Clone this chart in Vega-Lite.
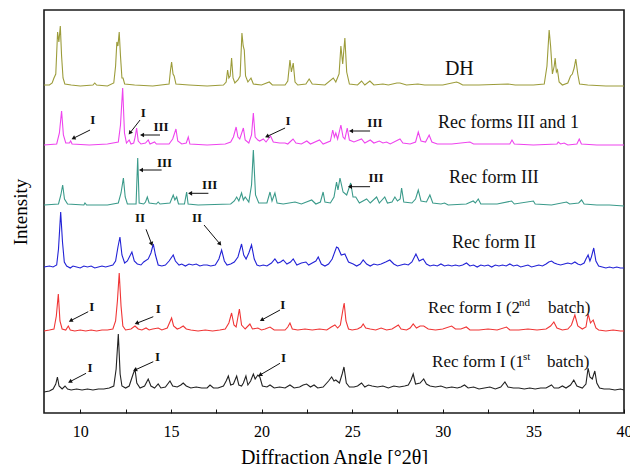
{
"$schema":"https://vega.github.io/schema/vega-lite/v6.json",
"width":580,"height":403,
"autosize":{"type":"none"},
"padding":{"left":44,"top":10,"right":6,"bottom":51},
"config":{"view":{"stroke":"#1a1a1a","strokeWidth":1.6},"axis":{"grid":false},"text":{"font":"Liberation Serif"}},
"resolve":{"scale":{"y":"independent"},"axis":{"y":"independent"}},
"datasets":{
"xrd":[
{"s":"DH","x":8.0,"y":1},{"s":"DH","x":8.3,"y":1},{"s":"DH","x":8.45,"y":3},{"s":"DH","x":8.55,"y":8},{"s":"DH","x":8.65,"y":12},{"s":"DH","x":8.75,"y":54},{"s":"DH","x":8.82,"y":44},{"s":"DH","x":8.9,"y":60},{"s":"DH","x":8.97,"y":30},{"s":"DH","x":9.05,"y":8},{"s":"DH","x":9.15,"y":2},{"s":"DH","x":9.5,"y":1},{"s":"DH","x":10.0,"y":0},{"s":"DH","x":10.7,"y":1},{"s":"DH","x":10.8,"y":3},{"s":"DH","x":10.9,"y":1},{"s":"DH","x":11.5,"y":0},{"s":"DH","x":11.85,"y":3},{"s":"DH","x":11.95,"y":20},{"s":"DH","x":12.02,"y":44},{"s":"DH","x":12.08,"y":40},{"s":"DH","x":12.15,"y":54},{"s":"DH","x":12.22,"y":30},{"s":"DH","x":12.3,"y":8},{"s":"DH","x":12.36,"y":8},{"s":"DH","x":12.45,"y":2},{"s":"DH","x":13.0,"y":1},{"s":"DH","x":14.0,"y":0},{"s":"DH","x":14.9,"y":2},{"s":"DH","x":14.98,"y":16},{"s":"DH","x":15.04,"y":24},{"s":"DH","x":15.12,"y":12},{"s":"DH","x":15.18,"y":10},{"s":"DH","x":15.28,"y":2},{"s":"DH","x":16.0,"y":1},{"s":"DH","x":17.0,"y":0},{"s":"DH","x":17.9,"y":1},{"s":"DH","x":18.05,"y":4},{"s":"DH","x":18.13,"y":16},{"s":"DH","x":18.2,"y":8},{"s":"DH","x":18.27,"y":10},{"s":"DH","x":18.35,"y":28},{"s":"DH","x":18.43,"y":8},{"s":"DH","x":18.53,"y":3},{"s":"DH","x":18.7,"y":6},{"s":"DH","x":18.82,"y":10},{"s":"DH","x":18.92,"y":53},{"s":"DH","x":18.99,"y":40},{"s":"DH","x":19.05,"y":36},{"s":"DH","x":19.12,"y":10},{"s":"DH","x":19.25,"y":4},{"s":"DH","x":19.42,"y":8},{"s":"DH","x":19.55,"y":2},{"s":"DH","x":20.0,"y":1},{"s":"DH","x":20.43,"y":4},{"s":"DH","x":20.6,"y":1},{"s":"DH","x":21.3,"y":1},{"s":"DH","x":21.45,"y":5},{"s":"DH","x":21.57,"y":26},{"s":"DH","x":21.65,"y":14},{"s":"DH","x":21.75,"y":23},{"s":"DH","x":21.85,"y":4},{"s":"DH","x":22.0,"y":1},{"s":"DH","x":22.45,"y":2},{"s":"DH","x":22.63,"y":7},{"s":"DH","x":22.8,"y":2},{"s":"DH","x":23.5,"y":1},{"s":"DH","x":23.96,"y":8},{"s":"DH","x":24.1,"y":4},{"s":"DH","x":24.28,"y":12},{"s":"DH","x":24.38,"y":40},{"s":"DH","x":24.48,"y":22},{"s":"DH","x":24.6,"y":48},{"s":"DH","x":24.7,"y":14},{"s":"DH","x":24.85,"y":2},{"s":"DH","x":25.3,"y":1},{"s":"DH","x":25.52,"y":5},{"s":"DH","x":25.7,"y":1},{"s":"DH","x":25.98,"y":5},{"s":"DH","x":26.2,"y":1},{"s":"DH","x":26.7,"y":2},{"s":"DH","x":27.0,"y":1},{"s":"DH","x":27.47,"y":3},{"s":"DH","x":27.64,"y":3},{"s":"DH","x":28.0,"y":1},{"s":"DH","x":28.63,"y":2},{"s":"DH","x":29.0,"y":1},{"s":"DH","x":30.0,"y":1},{"s":"DH","x":30.76,"y":4},{"s":"DH","x":30.9,"y":3},{"s":"DH","x":31.1,"y":1},{"s":"DH","x":32.0,"y":1},{"s":"DH","x":33.6,"y":2},{"s":"DH","x":34.0,"y":1},{"s":"DH","x":35.0,"y":1},{"s":"DH","x":35.6,"y":2},{"s":"DH","x":35.75,"y":20},{"s":"DH","x":35.87,"y":56},{"s":"DH","x":35.95,"y":40},{"s":"DH","x":36.05,"y":12},{"s":"DH","x":36.15,"y":20},{"s":"DH","x":36.2,"y":28},{"s":"DH","x":36.27,"y":14},{"s":"DH","x":36.33,"y":16},{"s":"DH","x":36.42,"y":4},{"s":"DH","x":36.6,"y":1},{"s":"DH","x":36.9,"y":3},{"s":"DH","x":37.05,"y":10},{"s":"DH","x":37.15,"y":12},{"s":"DH","x":37.25,"y":18},{"s":"DH","x":37.34,"y":27},{"s":"DH","x":37.45,"y":12},{"s":"DH","x":37.55,"y":2},{"s":"DH","x":38.0,"y":1},{"s":"DH","x":39.0,"y":0},{"s":"DH","x":40.0,"y":0},

{"s":"III+I","x":8.0,"y":0},{"s":"III+I","x":8.7,"y":1},{"s":"III+I","x":8.85,"y":12},{"s":"III+I","x":8.97,"y":34},{"s":"III+I","x":9.07,"y":10},{"s":"III+I","x":9.2,"y":2},{"s":"III+I","x":9.4,"y":2},{"s":"III+I","x":9.47,"y":4},{"s":"III+I","x":9.55,"y":1},{"s":"III+I","x":10.5,"y":0},{"s":"III+I","x":11.5,"y":1},{"s":"III+I","x":12.1,"y":3},{"s":"III+I","x":12.22,"y":20},{"s":"III+I","x":12.34,"y":57},{"s":"III+I","x":12.44,"y":12},{"s":"III+I","x":12.55,"y":2},{"s":"III+I","x":12.7,"y":5},{"s":"III+I","x":12.8,"y":1},{"s":"III+I","x":12.95,"y":2},{"s":"III+I","x":13.03,"y":8},{"s":"III+I","x":13.11,"y":17},{"s":"III+I","x":13.2,"y":4},{"s":"III+I","x":13.35,"y":1},{"s":"III+I","x":13.6,"y":2},{"s":"III+I","x":13.75,"y":5},{"s":"III+I","x":13.85,"y":1},{"s":"III+I","x":14.1,"y":3},{"s":"III+I","x":14.2,"y":1},{"s":"III+I","x":14.9,"y":1},{"s":"III+I","x":15.1,"y":6},{"s":"III+I","x":15.28,"y":16},{"s":"III+I","x":15.38,"y":4},{"s":"III+I","x":15.6,"y":1},{"s":"III+I","x":15.85,"y":2},{"s":"III+I","x":15.96,"y":8},{"s":"III+I","x":16.05,"y":1},{"s":"III+I","x":17.0,"y":0},{"s":"III+I","x":18.0,"y":1},{"s":"III+I","x":18.3,"y":3},{"s":"III+I","x":18.45,"y":8},{"s":"III+I","x":18.6,"y":18},{"s":"III+I","x":18.7,"y":8},{"s":"III+I","x":18.8,"y":6},{"s":"III+I","x":19.0,"y":17},{"s":"III+I","x":19.1,"y":5},{"s":"III+I","x":19.3,"y":2},{"s":"III+I","x":19.45,"y":10},{"s":"III+I","x":19.55,"y":32},{"s":"III+I","x":19.65,"y":8},{"s":"III+I","x":19.8,"y":5},{"s":"III+I","x":19.9,"y":4},{"s":"III+I","x":20.1,"y":6},{"s":"III+I","x":20.25,"y":3},{"s":"III+I","x":20.5,"y":9},{"s":"III+I","x":20.65,"y":3},{"s":"III+I","x":21.0,"y":2},{"s":"III+I","x":21.3,"y":2},{"s":"III+I","x":21.45,"y":1},{"s":"III+I","x":21.74,"y":6},{"s":"III+I","x":21.9,"y":2},{"s":"III+I","x":22.2,"y":1},{"s":"III+I","x":22.5,"y":4},{"s":"III+I","x":22.7,"y":1},{"s":"III+I","x":23.2,"y":5},{"s":"III+I","x":23.4,"y":1},{"s":"III+I","x":23.8,"y":4},{"s":"III+I","x":23.93,"y":15},{"s":"III+I","x":24.02,"y":8},{"s":"III+I","x":24.1,"y":12},{"s":"III+I","x":24.2,"y":6},{"s":"III+I","x":24.38,"y":20},{"s":"III+I","x":24.5,"y":8},{"s":"III+I","x":24.6,"y":6},{"s":"III+I","x":24.73,"y":17},{"s":"III+I","x":24.85,"y":5},{"s":"III+I","x":25.1,"y":3},{"s":"III+I","x":25.52,"y":6},{"s":"III+I","x":25.7,"y":2},{"s":"III+I","x":26.0,"y":5},{"s":"III+I","x":26.2,"y":2},{"s":"III+I","x":26.5,"y":4},{"s":"III+I","x":26.7,"y":2},{"s":"III+I","x":26.9,"y":3},{"s":"III+I","x":27.1,"y":1},{"s":"III+I","x":27.64,"y":6},{"s":"III+I","x":27.8,"y":2},{"s":"III+I","x":28.2,"y":1},{"s":"III+I","x":28.5,"y":3},{"s":"III+I","x":28.65,"y":13},{"s":"III+I","x":28.8,"y":4},{"s":"III+I","x":29.05,"y":3},{"s":"III+I","x":29.25,"y":10},{"s":"III+I","x":29.4,"y":3},{"s":"III+I","x":29.7,"y":1},{"s":"III+I","x":30.5,"y":1},{"s":"III+I","x":31.5,"y":3},{"s":"III+I","x":31.7,"y":1},{"s":"III+I","x":32.5,"y":1},{"s":"III+I","x":33.7,"y":1},{"s":"III+I","x":33.82,"y":5},{"s":"III+I","x":33.95,"y":1},{"s":"III+I","x":35.0,"y":0},{"s":"III+I","x":36.3,"y":1},{"s":"III+I","x":36.37,"y":3},{"s":"III+I","x":36.5,"y":1},{"s":"III+I","x":36.7,"y":2},{"s":"III+I","x":36.9,"y":0},{"s":"III+I","x":37.4,"y":1},{"s":"III+I","x":37.53,"y":6},{"s":"III+I","x":37.65,"y":1},{"s":"III+I","x":38.5,"y":0},{"s":"III+I","x":40.0,"y":0},

{"s":"III","x":8.0,"y":0},{"s":"III","x":8.8,"y":1},{"s":"III","x":8.93,"y":10},{"s":"III","x":9.03,"y":20},{"s":"III","x":9.13,"y":6},{"s":"III","x":9.3,"y":1},{"s":"III","x":10.2,"y":0},{"s":"III","x":10.26,"y":2},{"s":"III","x":10.35,"y":0},{"s":"III","x":11.5,"y":0},{"s":"III","x":12.1,"y":2},{"s":"III","x":12.25,"y":12},{"s":"III","x":12.38,"y":27},{"s":"III","x":12.48,"y":8},{"s":"III","x":12.6,"y":1},{"s":"III","x":13.08,"y":1},{"s":"III","x":13.17,"y":47},{"s":"III","x":13.25,"y":2},{"s":"III","x":13.5,"y":1},{"s":"III","x":13.6,"y":3},{"s":"III","x":13.7,"y":8},{"s":"III","x":13.8,"y":2},{"s":"III","x":14.2,"y":1},{"s":"III","x":14.3,"y":3},{"s":"III","x":14.4,"y":1},{"s":"III","x":14.95,"y":2},{"s":"III","x":15.13,"y":10},{"s":"III","x":15.22,"y":5},{"s":"III","x":15.32,"y":8},{"s":"III","x":15.42,"y":1},{"s":"III","x":15.75,"y":1},{"s":"III","x":15.87,"y":13},{"s":"III","x":15.95,"y":1},{"s":"III","x":16.5,"y":0},{"s":"III","x":18.3,"y":1},{"s":"III","x":18.5,"y":4},{"s":"III","x":18.63,"y":8},{"s":"III","x":18.75,"y":4},{"s":"III","x":18.9,"y":12},{"s":"III","x":19.0,"y":5},{"s":"III","x":19.1,"y":8},{"s":"III","x":19.3,"y":3},{"s":"III","x":19.45,"y":20},{"s":"III","x":19.55,"y":55},{"s":"III","x":19.67,"y":10},{"s":"III","x":19.85,"y":2},{"s":"III","x":20.3,"y":2},{"s":"III","x":20.47,"y":13},{"s":"III","x":20.58,"y":4},{"s":"III","x":20.74,"y":12},{"s":"III","x":20.86,"y":2},{"s":"III","x":21.2,"y":1},{"s":"III","x":21.85,"y":3},{"s":"III","x":22.2,"y":1},{"s":"III","x":22.77,"y":5},{"s":"III","x":23.0,"y":1},{"s":"III","x":23.25,"y":3},{"s":"III","x":23.4,"y":13},{"s":"III","x":23.5,"y":3},{"s":"III","x":23.8,"y":2},{"s":"III","x":24.0,"y":8},{"s":"III","x":24.14,"y":23},{"s":"III","x":24.22,"y":15},{"s":"III","x":24.33,"y":27},{"s":"III","x":24.5,"y":13},{"s":"III","x":24.7,"y":10},{"s":"III","x":24.92,"y":22},{"s":"III","x":25.05,"y":8},{"s":"III","x":25.2,"y":8},{"s":"III","x":25.4,"y":2},{"s":"III","x":25.8,"y":6},{"s":"III","x":26.0,"y":2},{"s":"III","x":26.35,"y":8},{"s":"III","x":26.5,"y":2},{"s":"III","x":26.8,"y":8},{"s":"III","x":26.95,"y":2},{"s":"III","x":27.2,"y":3},{"s":"III","x":27.36,"y":8},{"s":"III","x":27.5,"y":4},{"s":"III","x":27.65,"y":6},{"s":"III","x":27.73,"y":17},{"s":"III","x":27.85,"y":3},{"s":"III","x":28.3,"y":2},{"s":"III","x":28.5,"y":6},{"s":"III","x":28.65,"y":15},{"s":"III","x":28.8,"y":4},{"s":"III","x":29.1,"y":3},{"s":"III","x":29.29,"y":10},{"s":"III","x":29.45,"y":2},{"s":"III","x":29.9,"y":1},{"s":"III","x":30.1,"y":2},{"s":"III","x":30.3,"y":0},{"s":"III","x":31.3,"y":1},{"s":"III","x":31.68,"y":4},{"s":"III","x":31.8,"y":2},{"s":"III","x":31.96,"y":6},{"s":"III","x":32.1,"y":1},{"s":"III","x":33.0,"y":1},{"s":"III","x":33.8,"y":4},{"s":"III","x":33.95,"y":1},{"s":"III","x":35.0,"y":4},{"s":"III","x":35.1,"y":1},{"s":"III","x":36.0,"y":0},{"s":"III","x":36.83,"y":3},{"s":"III","x":37.0,"y":1},{"s":"III","x":37.5,"y":2},{"s":"III","x":37.66,"y":5},{"s":"III","x":37.8,"y":1},{"s":"III","x":38.5,"y":0},{"s":"III","x":39.2,"y":0},{"s":"III","x":40.0,"y":-1},

{"s":"II","x":8.0,"y":0},{"s":"II","x":8.3,"y":1},{"s":"II","x":8.5,"y":0},{"s":"II","x":8.7,"y":2},{"s":"II","x":8.8,"y":18},{"s":"II","x":8.92,"y":55},{"s":"II","x":9.02,"y":25},{"s":"II","x":9.12,"y":5},{"s":"II","x":9.25,"y":1},{"s":"II","x":9.45,"y":-1},{"s":"II","x":9.6,"y":1},{"s":"II","x":9.8,"y":0},{"s":"II","x":10.0,"y":-1},{"s":"II","x":10.2,"y":1},{"s":"II","x":10.4,"y":0},{"s":"II","x":10.6,"y":1},{"s":"II","x":10.8,"y":-1},{"s":"II","x":11.0,"y":0},{"s":"II","x":11.2,"y":1},{"s":"II","x":11.4,"y":0},{"s":"II","x":11.6,"y":1},{"s":"II","x":11.8,"y":2},{"s":"II","x":11.95,"y":6},{"s":"II","x":12.08,"y":20},{"s":"II","x":12.19,"y":30},{"s":"II","x":12.3,"y":12},{"s":"II","x":12.45,"y":4},{"s":"II","x":12.6,"y":6},{"s":"II","x":12.85,"y":15},{"s":"II","x":12.98,"y":6},{"s":"II","x":13.15,"y":3},{"s":"II","x":13.35,"y":2},{"s":"II","x":13.5,"y":5},{"s":"II","x":13.75,"y":8},{"s":"II","x":13.9,"y":14},{"s":"II","x":14.03,"y":23},{"s":"II","x":14.15,"y":12},{"s":"II","x":14.3,"y":2},{"s":"II","x":14.5,"y":1},{"s":"II","x":14.7,"y":2},{"s":"II","x":14.9,"y":6},{"s":"II","x":15.13,"y":12},{"s":"II","x":15.25,"y":6},{"s":"II","x":15.45,"y":2},{"s":"II","x":15.6,"y":3},{"s":"II","x":15.8,"y":1},{"s":"II","x":16.0,"y":3},{"s":"II","x":16.2,"y":2},{"s":"II","x":16.4,"y":3},{"s":"II","x":16.6,"y":1},{"s":"II","x":16.8,"y":2},{"s":"II","x":17.0,"y":2},{"s":"II","x":17.2,"y":1},{"s":"II","x":17.45,"y":2},{"s":"II","x":17.65,"y":8},{"s":"II","x":17.8,"y":17},{"s":"II","x":17.95,"y":6},{"s":"II","x":18.1,"y":2},{"s":"II","x":18.3,"y":3},{"s":"II","x":18.5,"y":5},{"s":"II","x":18.7,"y":10},{"s":"II","x":18.9,"y":23},{"s":"II","x":19.02,"y":12},{"s":"II","x":19.15,"y":8},{"s":"II","x":19.3,"y":14},{"s":"II","x":19.45,"y":22},{"s":"II","x":19.6,"y":8},{"s":"II","x":19.75,"y":2},{"s":"II","x":19.9,"y":1},{"s":"II","x":20.1,"y":2},{"s":"II","x":20.3,"y":1},{"s":"II","x":20.55,"y":4},{"s":"II","x":20.74,"y":8},{"s":"II","x":20.9,"y":4},{"s":"II","x":21.05,"y":5},{"s":"II","x":21.2,"y":7},{"s":"II","x":21.4,"y":3},{"s":"II","x":21.6,"y":5},{"s":"II","x":21.75,"y":8},{"s":"II","x":21.95,"y":2},{"s":"II","x":22.2,"y":4},{"s":"II","x":22.45,"y":5},{"s":"II","x":22.6,"y":2},{"s":"II","x":22.8,"y":4},{"s":"II","x":23.0,"y":6},{"s":"II","x":23.13,"y":10},{"s":"II","x":23.3,"y":3},{"s":"II","x":23.5,"y":1},{"s":"II","x":23.7,"y":3},{"s":"II","x":23.9,"y":8},{"s":"II","x":24.14,"y":20},{"s":"II","x":24.23,"y":19},{"s":"II","x":24.4,"y":12},{"s":"II","x":24.6,"y":13},{"s":"II","x":24.8,"y":5},{"s":"II","x":25.06,"y":3},{"s":"II","x":25.25,"y":1},{"s":"II","x":25.45,"y":3},{"s":"II","x":25.61,"y":7},{"s":"II","x":25.8,"y":3},{"s":"II","x":26.0,"y":1},{"s":"II","x":26.2,"y":3},{"s":"II","x":26.4,"y":2},{"s":"II","x":26.6,"y":3},{"s":"II","x":26.85,"y":5},{"s":"II","x":27.08,"y":7},{"s":"II","x":27.3,"y":3},{"s":"II","x":27.5,"y":1},{"s":"II","x":27.7,"y":2},{"s":"II","x":27.9,"y":3},{"s":"II","x":28.1,"y":2},{"s":"II","x":28.3,"y":5},{"s":"II","x":28.52,"y":13},{"s":"II","x":28.7,"y":6},{"s":"II","x":28.92,"y":8},{"s":"II","x":29.1,"y":3},{"s":"II","x":29.3,"y":1},{"s":"II","x":29.5,"y":2},{"s":"II","x":29.7,"y":1},{"s":"II","x":29.9,"y":3},{"s":"II","x":30.1,"y":1},{"s":"II","x":30.3,"y":2},{"s":"II","x":30.5,"y":1},{"s":"II","x":30.7,"y":2},{"s":"II","x":30.9,"y":1},{"s":"II","x":31.1,"y":2},{"s":"II","x":31.31,"y":4},{"s":"II","x":31.5,"y":1},{"s":"II","x":31.7,"y":2},{"s":"II","x":31.9,"y":0},{"s":"II","x":32.1,"y":2},{"s":"II","x":32.3,"y":1},{"s":"II","x":32.5,"y":2},{"s":"II","x":32.7,"y":0},{"s":"II","x":32.9,"y":2},{"s":"II","x":33.1,"y":1},{"s":"II","x":33.3,"y":2},{"s":"II","x":33.5,"y":1},{"s":"II","x":33.7,"y":3},{"s":"II","x":33.9,"y":1},{"s":"II","x":34.1,"y":2},{"s":"II","x":34.3,"y":0},{"s":"II","x":34.5,"y":1},{"s":"II","x":34.7,"y":2},{"s":"II","x":34.9,"y":0},{"s":"II","x":35.1,"y":1},{"s":"II","x":35.3,"y":2},{"s":"II","x":35.5,"y":1},{"s":"II","x":35.7,"y":3},{"s":"II","x":35.85,"y":5},{"s":"II","x":36.0,"y":6},{"s":"II","x":36.15,"y":4},{"s":"II","x":36.3,"y":3},{"s":"II","x":36.5,"y":2},{"s":"II","x":36.7,"y":3},{"s":"II","x":36.9,"y":4},{"s":"II","x":37.1,"y":3},{"s":"II","x":37.29,"y":5},{"s":"II","x":37.45,"y":3},{"s":"II","x":37.6,"y":2},{"s":"II","x":37.8,"y":4},{"s":"II","x":37.9,"y":8},{"s":"II","x":38.02,"y":12},{"s":"II","x":38.12,"y":6},{"s":"II","x":38.2,"y":10},{"s":"II","x":38.33,"y":19},{"s":"II","x":38.45,"y":6},{"s":"II","x":38.6,"y":1},{"s":"II","x":38.8,"y":0},{"s":"II","x":39.0,"y":-1},{"s":"II","x":39.2,"y":0},{"s":"II","x":39.4,"y":-1},{"s":"II","x":39.6,"y":0},{"s":"II","x":39.8,"y":-1},{"s":"II","x":40.0,"y":-1},

{"s":"I-2nd","x":8.0,"y":0},{"s":"I-2nd","x":8.3,"y":1},{"s":"I-2nd","x":8.55,"y":2},{"s":"I-2nd","x":8.68,"y":15},{"s":"I-2nd","x":8.79,"y":37},{"s":"I-2nd","x":8.88,"y":10},{"s":"I-2nd","x":9.0,"y":2},{"s":"I-2nd","x":9.2,"y":1},{"s":"I-2nd","x":9.34,"y":5},{"s":"I-2nd","x":9.45,"y":1},{"s":"I-2nd","x":9.7,"y":0},{"s":"I-2nd","x":10.0,"y":1},{"s":"I-2nd","x":10.3,"y":0},{"s":"I-2nd","x":10.6,"y":1},{"s":"I-2nd","x":10.9,"y":0},{"s":"I-2nd","x":11.2,"y":1},{"s":"I-2nd","x":11.5,"y":1},{"s":"I-2nd","x":11.8,"y":2},{"s":"I-2nd","x":11.95,"y":10},{"s":"I-2nd","x":12.05,"y":30},{"s":"I-2nd","x":12.15,"y":58},{"s":"I-2nd","x":12.25,"y":25},{"s":"I-2nd","x":12.35,"y":5},{"s":"I-2nd","x":12.5,"y":1},{"s":"I-2nd","x":12.8,"y":2},{"s":"I-2nd","x":13.02,"y":5},{"s":"I-2nd","x":13.2,"y":2},{"s":"I-2nd","x":13.4,"y":1},{"s":"I-2nd","x":13.63,"y":3},{"s":"I-2nd","x":13.8,"y":1},{"s":"I-2nd","x":14.0,"y":2},{"s":"I-2nd","x":14.3,"y":3},{"s":"I-2nd","x":14.5,"y":1},{"s":"I-2nd","x":14.8,"y":3},{"s":"I-2nd","x":15.04,"y":13},{"s":"I-2nd","x":15.15,"y":5},{"s":"I-2nd","x":15.35,"y":2},{"s":"I-2nd","x":15.5,"y":3},{"s":"I-2nd","x":15.68,"y":5},{"s":"I-2nd","x":15.85,"y":2},{"s":"I-2nd","x":16.1,"y":1},{"s":"I-2nd","x":16.5,"y":0},{"s":"I-2nd","x":16.9,"y":1},{"s":"I-2nd","x":17.3,"y":0},{"s":"I-2nd","x":17.7,"y":1},{"s":"I-2nd","x":18.0,"y":2},{"s":"I-2nd","x":18.2,"y":8},{"s":"I-2nd","x":18.35,"y":18},{"s":"I-2nd","x":18.48,"y":6},{"s":"I-2nd","x":18.6,"y":4},{"s":"I-2nd","x":18.7,"y":14},{"s":"I-2nd","x":18.78,"y":22},{"s":"I-2nd","x":18.9,"y":6},{"s":"I-2nd","x":19.1,"y":2},{"s":"I-2nd","x":19.36,"y":7},{"s":"I-2nd","x":19.5,"y":2},{"s":"I-2nd","x":19.8,"y":3},{"s":"I-2nd","x":20.0,"y":1},{"s":"I-2nd","x":20.2,"y":2},{"s":"I-2nd","x":20.47,"y":4},{"s":"I-2nd","x":20.7,"y":1},{"s":"I-2nd","x":21.0,"y":1},{"s":"I-2nd","x":21.3,"y":1},{"s":"I-2nd","x":21.45,"y":4},{"s":"I-2nd","x":21.57,"y":8},{"s":"I-2nd","x":21.7,"y":2},{"s":"I-2nd","x":22.0,"y":1},{"s":"I-2nd","x":22.4,"y":2},{"s":"I-2nd","x":22.8,"y":1},{"s":"I-2nd","x":23.2,"y":2},{"s":"I-2nd","x":23.6,"y":1},{"s":"I-2nd","x":23.85,"y":4},{"s":"I-2nd","x":24.05,"y":6},{"s":"I-2nd","x":24.2,"y":3},{"s":"I-2nd","x":24.35,"y":6},{"s":"I-2nd","x":24.48,"y":20},{"s":"I-2nd","x":24.56,"y":28},{"s":"I-2nd","x":24.66,"y":10},{"s":"I-2nd","x":24.8,"y":2},{"s":"I-2nd","x":25.0,"y":1},{"s":"I-2nd","x":25.3,"y":2},{"s":"I-2nd","x":25.5,"y":4},{"s":"I-2nd","x":25.61,"y":7},{"s":"I-2nd","x":25.75,"y":3},{"s":"I-2nd","x":26.0,"y":2},{"s":"I-2nd","x":26.3,"y":1},{"s":"I-2nd","x":26.6,"y":3},{"s":"I-2nd","x":26.9,"y":1},{"s":"I-2nd","x":27.2,"y":2},{"s":"I-2nd","x":27.55,"y":6},{"s":"I-2nd","x":27.7,"y":2},{"s":"I-2nd","x":28.0,"y":1},{"s":"I-2nd","x":28.2,"y":3},{"s":"I-2nd","x":28.37,"y":7},{"s":"I-2nd","x":28.55,"y":3},{"s":"I-2nd","x":28.75,"y":5},{"s":"I-2nd","x":28.95,"y":5},{"s":"I-2nd","x":29.2,"y":2},{"s":"I-2nd","x":29.6,"y":1},{"s":"I-2nd","x":30.0,"y":2},{"s":"I-2nd","x":30.49,"y":5},{"s":"I-2nd","x":30.7,"y":2},{"s":"I-2nd","x":31.0,"y":2},{"s":"I-2nd","x":31.3,"y":4},{"s":"I-2nd","x":31.5,"y":1},{"s":"I-2nd","x":32.0,"y":1},{"s":"I-2nd","x":32.5,"y":2},{"s":"I-2nd","x":33.0,"y":1},{"s":"I-2nd","x":33.52,"y":4},{"s":"I-2nd","x":33.7,"y":1},{"s":"I-2nd","x":34.2,"y":1},{"s":"I-2nd","x":34.7,"y":2},{"s":"I-2nd","x":35.2,"y":1},{"s":"I-2nd","x":35.7,"y":2},{"s":"I-2nd","x":35.95,"y":5},{"s":"I-2nd","x":36.13,"y":9},{"s":"I-2nd","x":36.3,"y":3},{"s":"I-2nd","x":36.6,"y":1},{"s":"I-2nd","x":36.9,"y":2},{"s":"I-2nd","x":37.1,"y":6},{"s":"I-2nd","x":37.29,"y":16},{"s":"I-2nd","x":37.45,"y":5},{"s":"I-2nd","x":37.7,"y":2},{"s":"I-2nd","x":37.9,"y":4},{"s":"I-2nd","x":38.02,"y":17},{"s":"I-2nd","x":38.15,"y":8},{"s":"I-2nd","x":38.3,"y":11},{"s":"I-2nd","x":38.45,"y":3},{"s":"I-2nd","x":38.6,"y":1},{"s":"I-2nd","x":39.0,"y":0},{"s":"I-2nd","x":39.4,"y":1},{"s":"I-2nd","x":39.8,"y":0},{"s":"I-2nd","x":40.0,"y":0},

{"s":"I-1st","x":8.0,"y":-3},{"s":"I-1st","x":8.3,"y":-2},{"s":"I-1st","x":8.5,"y":0},{"s":"I-1st","x":8.65,"y":5},{"s":"I-1st","x":8.74,"y":12},{"s":"I-1st","x":8.83,"y":3},{"s":"I-1st","x":9.0,"y":0},{"s":"I-1st","x":9.16,"y":3},{"s":"I-1st","x":9.3,"y":0},{"s":"I-1st","x":9.5,"y":-1},{"s":"I-1st","x":9.8,"y":0},{"s":"I-1st","x":10.1,"y":-1},{"s":"I-1st","x":10.4,"y":0},{"s":"I-1st","x":10.7,"y":-1},{"s":"I-1st","x":11.0,"y":0},{"s":"I-1st","x":11.3,"y":0},{"s":"I-1st","x":11.6,"y":1},{"s":"I-1st","x":11.85,"y":3},{"s":"I-1st","x":11.98,"y":20},{"s":"I-1st","x":12.1,"y":55},{"s":"I-1st","x":12.2,"y":15},{"s":"I-1st","x":12.3,"y":3},{"s":"I-1st","x":12.5,"y":1},{"s":"I-1st","x":12.7,"y":3},{"s":"I-1st","x":12.9,"y":14},{"s":"I-1st","x":13.02,"y":20},{"s":"I-1st","x":13.12,"y":6},{"s":"I-1st","x":13.3,"y":1},{"s":"I-1st","x":13.55,"y":3},{"s":"I-1st","x":13.75,"y":10},{"s":"I-1st","x":13.9,"y":3},{"s":"I-1st","x":14.1,"y":1},{"s":"I-1st","x":14.3,"y":5},{"s":"I-1st","x":14.45,"y":1},{"s":"I-1st","x":14.7,"y":2},{"s":"I-1st","x":14.95,"y":8},{"s":"I-1st","x":15.1,"y":3},{"s":"I-1st","x":15.35,"y":2},{"s":"I-1st","x":15.55,"y":4},{"s":"I-1st","x":15.68,"y":6},{"s":"I-1st","x":15.85,"y":3},{"s":"I-1st","x":16.1,"y":1},{"s":"I-1st","x":16.4,"y":2},{"s":"I-1st","x":16.7,"y":1},{"s":"I-1st","x":17.0,"y":1},{"s":"I-1st","x":17.16,"y":4},{"s":"I-1st","x":17.35,"y":1},{"s":"I-1st","x":17.6,"y":1},{"s":"I-1st","x":17.9,"y":3},{"s":"I-1st","x":18.05,"y":8},{"s":"I-1st","x":18.17,"y":13},{"s":"I-1st","x":18.3,"y":4},{"s":"I-1st","x":18.45,"y":5},{"s":"I-1st","x":18.63,"y":13},{"s":"I-1st","x":18.75,"y":4},{"s":"I-1st","x":18.9,"y":3},{"s":"I-1st","x":19.0,"y":6},{"s":"I-1st","x":19.14,"y":13},{"s":"I-1st","x":19.25,"y":4},{"s":"I-1st","x":19.4,"y":8},{"s":"I-1st","x":19.55,"y":15},{"s":"I-1st","x":19.65,"y":10},{"s":"I-1st","x":19.8,"y":14},{"s":"I-1st","x":19.91,"y":12},{"s":"I-1st","x":20.05,"y":3},{"s":"I-1st","x":20.3,"y":2},{"s":"I-1st","x":20.47,"y":4},{"s":"I-1st","x":20.7,"y":1},{"s":"I-1st","x":21.0,"y":2},{"s":"I-1st","x":21.3,"y":1},{"s":"I-1st","x":21.57,"y":4},{"s":"I-1st","x":21.8,"y":1},{"s":"I-1st","x":22.1,"y":2},{"s":"I-1st","x":22.3,"y":4},{"s":"I-1st","x":22.49,"y":5},{"s":"I-1st","x":22.7,"y":2},{"s":"I-1st","x":22.9,"y":4},{"s":"I-1st","x":23.1,"y":1},{"s":"I-1st","x":23.4,"y":2},{"s":"I-1st","x":23.7,"y":8},{"s":"I-1st","x":23.87,"y":12},{"s":"I-1st","x":24.0,"y":8},{"s":"I-1st","x":24.1,"y":9},{"s":"I-1st","x":24.3,"y":6},{"s":"I-1st","x":24.45,"y":15},{"s":"I-1st","x":24.55,"y":22},{"s":"I-1st","x":24.68,"y":6},{"s":"I-1st","x":24.85,"y":2},{"s":"I-1st","x":25.1,"y":2},{"s":"I-1st","x":25.3,"y":3},{"s":"I-1st","x":25.52,"y":6},{"s":"I-1st","x":25.7,"y":2},{"s":"I-1st","x":25.9,"y":4},{"s":"I-1st","x":26.1,"y":3},{"s":"I-1st","x":26.4,"y":2},{"s":"I-1st","x":26.7,"y":3},{"s":"I-1st","x":27.0,"y":1},{"s":"I-1st","x":27.3,"y":3},{"s":"I-1st","x":27.6,"y":2},{"s":"I-1st","x":27.9,"y":3},{"s":"I-1st","x":28.1,"y":4},{"s":"I-1st","x":28.25,"y":9},{"s":"I-1st","x":28.37,"y":15},{"s":"I-1st","x":28.5,"y":5},{"s":"I-1st","x":28.75,"y":6},{"s":"I-1st","x":28.95,"y":10},{"s":"I-1st","x":29.1,"y":5},{"s":"I-1st","x":29.3,"y":3},{"s":"I-1st","x":29.6,"y":2},{"s":"I-1st","x":29.9,"y":3},{"s":"I-1st","x":30.2,"y":1},{"s":"I-1st","x":30.5,"y":2},{"s":"I-1st","x":30.8,"y":1},{"s":"I-1st","x":31.0,"y":2},{"s":"I-1st","x":31.2,"y":4},{"s":"I-1st","x":31.4,"y":1},{"s":"I-1st","x":31.7,"y":2},{"s":"I-1st","x":32.0,"y":0},{"s":"I-1st","x":32.3,"y":1},{"s":"I-1st","x":32.6,"y":2},{"s":"I-1st","x":32.9,"y":0},{"s":"I-1st","x":33.2,"y":2},{"s":"I-1st","x":33.43,"y":7},{"s":"I-1st","x":33.6,"y":2},{"s":"I-1st","x":33.9,"y":1},{"s":"I-1st","x":34.2,"y":1},{"s":"I-1st","x":34.5,"y":0},{"s":"I-1st","x":34.8,"y":1},{"s":"I-1st","x":35.1,"y":0},{"s":"I-1st","x":35.4,"y":1},{"s":"I-1st","x":35.7,"y":1},{"s":"I-1st","x":36.0,"y":4},{"s":"I-1st","x":36.15,"y":1},{"s":"I-1st","x":36.4,"y":1},{"s":"I-1st","x":36.6,"y":3},{"s":"I-1st","x":36.8,"y":1},{"s":"I-1st","x":37.05,"y":4},{"s":"I-1st","x":37.23,"y":9},{"s":"I-1st","x":37.4,"y":3},{"s":"I-1st","x":37.7,"y":1},{"s":"I-1st","x":37.9,"y":5},{"s":"I-1st","x":38.02,"y":21},{"s":"I-1st","x":38.12,"y":12},{"s":"I-1st","x":38.25,"y":10},{"s":"I-1st","x":38.39,"y":18},{"s":"I-1st","x":38.5,"y":6},{"s":"I-1st","x":38.65,"y":1},{"s":"I-1st","x":38.9,"y":0},{"s":"I-1st","x":39.2,"y":0},{"s":"I-1st","x":39.5,"y":-1},{"s":"I-1st","x":39.8,"y":0},{"s":"I-1st","x":40.0,"y":-1}
],
"ann":[
{"s":"III+I","t":"I","x":10.54,"y":15,"x2":9.62,"y2":6.7,"tx":10.69,"ty":25},
{"s":"III+I","t":"I","x":13.3,"y":25,"x2":12.74,"y2":12,"tx":13.48,"ty":32},
{"s":"III+I","t":"III","x":14.4,"y":10,"x2":13.41,"y2":10,"tx":14.46,"ty":18},
{"s":"III+I","t":"I","x":21.3,"y":17,"x2":20.3,"y2":8.5,"tx":21.46,"ty":24},
{"s":"III+I","t":"III","x":25.99,"y":14,"x2":24.94,"y2":14,"tx":26.26,"ty":22.5},
{"s":"III","t":"III","x":14.49,"y":35,"x2":13.35,"y2":35,"tx":14.65,"ty":42.5},
{"s":"III","t":"III","x":17.07,"y":11.7,"x2":16.06,"y2":11.7,"tx":17.14,"ty":20},
{"s":"III","t":"III","x":25.99,"y":18.3,"x2":24.88,"y2":18.3,"tx":26.32,"ty":27},
{"s":"II","t":"II","x":13.63,"y":37.7,"x2":13.94,"y2":23,"tx":13.3,"ty":49},
{"s":"II","t":"II","x":16.83,"y":42,"x2":17.71,"y2":23,"tx":16.44,"ty":49},
{"s":"I-2nd","t":"I","x":10.44,"y":19.3,"x2":9.47,"y2":10.3,"tx":10.63,"ty":24.3},
{"s":"I-2nd","t":"I","x":14.03,"y":14.3,"x2":13.11,"y2":7.7,"tx":14.31,"ty":21.7},
{"s":"I-2nd","t":"I","x":21.02,"y":21,"x2":20.01,"y2":11,"tx":21.17,"ty":26},
{"s":"I-1st","t":"I","x":10.32,"y":15.7,"x2":9.43,"y2":7.3,"tx":10.54,"ty":20.7},
{"s":"I-1st","t":"I","x":14.03,"y":27.3,"x2":13.02,"y2":19,"tx":14.26,"ty":32.3},
{"s":"I-1st","t":"I","x":21.02,"y":25.7,"x2":19.92,"y2":14,"tx":21.21,"ty":30.7}
],
"lab":[
{"s":"DH","p":"main","t":"DH","x":30.12,"y":17},
{"s":"III+I","p":"main","t":"Rec forms III and 1","x":29.74,"y":22.5},
{"s":"III","p":"main","t":"Rec form III","x":30.34,"y":26.7},
{"s":"II","p":"main","t":"Rec form II","x":30.51,"y":23.7},
{"s":"I-2nd","p":"main","t":"Rec form I (2","x":29.19,"y":23.5},
{"s":"I-2nd","p":"sup","t":"nd","x":34.21,"y":28.5},
{"s":"I-2nd","p":"main","t":"batch)","x":35.81,"y":23.5},
{"s":"I-1st","p":"main","t":"Rec form I (1","x":29.41,"y":27.3},
{"s":"I-1st","p":"sup","t":"st","x":34.43,"y":32},
{"s":"I-1st","p":"main","t":"batch)","x":35.75,"y":27.3}
]
},
"layer":[
{"layer":[
 {"data":{"name":"xrd"},"transform":[{"filter":"datum.s==='DH'"}],"mark":{"type":"line","color":"#9c9c3a","strokeWidth":1.1},
  "encoding":{"x":{"field":"x","type":"quantitative","scale":{"domain":[8,40],"nice":false,"zero":false},
    "axis":{"title":"Diffraction Angle [°2θ]","values":[10,12.5,15,17.5,20,22.5,25,27.5,30,32.5,35,37.5,40],"labelExpr":"datum.value % 5 === 0 ? format(datum.value, 'd') : ''","labelFlush":false,"labelOverlap":false,"domain":false,"ticks":true,"tickSize":-4,"tickColor":"#111","labelPadding":14,"labelFont":"Liberation Serif","labelFontSize":16,"labelColor":"#000","titleFont":"Liberation Serif","titleFontSize":20,"titleFontWeight":"normal","titleColor":"#000","titlePadding":8}},
   "y":{"field":"y","type":"quantitative","scale":{"domain":[-327,76],"nice":false,"zero":false},"axis":null}}},
 {"data":{"name":"lab"},"transform":[{"filter":"datum.s==='DH' && datum.p==='main'"}],"mark":{"type":"text","align":"left","baseline":"middle","fontSize":20,"color":"#111"},
  "encoding":{"x":{"field":"x","type":"quantitative"},"y":{"field":"y","type":"quantitative","axis":null},"text":{"field":"t"}}}
]},
{"layer":[
 {"data":{"name":"xrd"},"transform":[{"filter":"datum.s==='III+I'"}],"mark":{"type":"line","color":"#ee44ee","strokeWidth":1.1},
  "encoding":{"x":{"field":"x","type":"quantitative"},"y":{"field":"y","type":"quantitative","scale":{"domain":[-268,135],"nice":false,"zero":false},"axis":null}}},
 {"data":{"name":"lab"},"transform":[{"filter":"datum.s==='III+I' && datum.p==='main'"}],"mark":{"type":"text","align":"left","baseline":"middle","fontSize":18,"color":"#111"},
  "encoding":{"x":{"field":"x","type":"quantitative"},"y":{"field":"y","type":"quantitative","axis":null},"text":{"field":"t"}}},
 {"data":{"name":"ann"},"transform":[{"filter":"datum.s==='III+I'"}],"mark":{"type":"rule","color":"#111","strokeWidth":1},
  "encoding":{"x":{"field":"x","type":"quantitative"},"x2":{"field":"x2"},"y":{"field":"y","type":"quantitative","axis":null},"y2":{"field":"y2"}}},
 {"data":{"name":"ann"},"transform":[{"filter":"datum.s==='III+I'"},{"calculate":"atan2(-(datum.y2-datum.y),(datum.x2-datum.x)*18.125)*180/PI","as":"ang"}],"mark":{"type":"point","shape":"triangle-right","filled":true,"color":"#111","opacity":1,"size":22},
  "encoding":{"x":{"field":"x2","type":"quantitative"},"y":{"field":"y2","type":"quantitative","axis":null},"angle":{"field":"ang","type":"quantitative","scale":null}}},
 {"data":{"name":"ann"},"transform":[{"filter":"datum.s==='III+I'"}],"mark":{"type":"text","baseline":"middle","fontSize":13,"fontWeight":"bold","color":"#111"},
  "encoding":{"x":{"field":"tx","type":"quantitative"},"y":{"field":"ty","type":"quantitative","axis":null},"text":{"field":"t"}}}
]},
{"layer":[
 {"data":{"name":"xrd"},"transform":[{"filter":"datum.s==='III'"}],"mark":{"type":"line","color":"#3a9a8a","strokeWidth":1.1},
  "encoding":{"x":{"field":"x","type":"quantitative"},"y":{"field":"y","type":"quantitative","scale":{"domain":[-208,195],"nice":false,"zero":false},"axis":null}}},
 {"data":{"name":"lab"},"transform":[{"filter":"datum.s==='III' && datum.p==='main'"}],"mark":{"type":"text","align":"left","baseline":"middle","fontSize":18,"color":"#111"},
  "encoding":{"x":{"field":"x","type":"quantitative"},"y":{"field":"y","type":"quantitative","axis":null},"text":{"field":"t"}}},
 {"data":{"name":"ann"},"transform":[{"filter":"datum.s==='III'"}],"mark":{"type":"rule","color":"#111","strokeWidth":1},
  "encoding":{"x":{"field":"x","type":"quantitative"},"x2":{"field":"x2"},"y":{"field":"y","type":"quantitative","axis":null},"y2":{"field":"y2"}}},
 {"data":{"name":"ann"},"transform":[{"filter":"datum.s==='III'"},{"calculate":"atan2(-(datum.y2-datum.y),(datum.x2-datum.x)*18.125)*180/PI","as":"ang"}],"mark":{"type":"point","shape":"triangle-right","filled":true,"color":"#111","opacity":1,"size":22},
  "encoding":{"x":{"field":"x2","type":"quantitative"},"y":{"field":"y2","type":"quantitative","axis":null},"angle":{"field":"ang","type":"quantitative","scale":null}}},
 {"data":{"name":"ann"},"transform":[{"filter":"datum.s==='III'"}],"mark":{"type":"text","baseline":"middle","fontSize":13,"fontWeight":"bold","color":"#111"},
  "encoding":{"x":{"field":"tx","type":"quantitative"},"y":{"field":"ty","type":"quantitative","axis":null},"text":{"field":"t"}}}
]},
{"layer":[
 {"data":{"name":"xrd"},"transform":[{"filter":"datum.s==='II'"}],"mark":{"type":"line","color":"#2222d6","strokeWidth":1.1},
  "encoding":{"x":{"field":"x","type":"quantitative"},"y":{"field":"y","type":"quantitative","scale":{"domain":[-146,257],"nice":false,"zero":false},
   "axis":{"title":"Intensity","labels":false,"ticks":false,"domain":false,"grid":false,"titleFont":"Liberation Serif","titleFontSize":19,"titleFontWeight":"normal","titleColor":"#000","titlePadding":14}}}},
 {"data":{"name":"lab"},"transform":[{"filter":"datum.s==='II' && datum.p==='main'"}],"mark":{"type":"text","align":"left","baseline":"middle","fontSize":18,"color":"#111"},
  "encoding":{"x":{"field":"x","type":"quantitative"},"y":{"field":"y","type":"quantitative"},"text":{"field":"t"}}},
 {"data":{"name":"ann"},"transform":[{"filter":"datum.s==='II'"}],"mark":{"type":"rule","color":"#111","strokeWidth":1},
  "encoding":{"x":{"field":"x","type":"quantitative"},"x2":{"field":"x2"},"y":{"field":"y","type":"quantitative"},"y2":{"field":"y2"}}},
 {"data":{"name":"ann"},"transform":[{"filter":"datum.s==='II'"},{"calculate":"atan2(-(datum.y2-datum.y),(datum.x2-datum.x)*18.125)*180/PI","as":"ang"}],"mark":{"type":"point","shape":"triangle-right","filled":true,"color":"#111","opacity":1,"size":22},
  "encoding":{"x":{"field":"x2","type":"quantitative"},"y":{"field":"y2","type":"quantitative"},"angle":{"field":"ang","type":"quantitative","scale":null}}},
 {"data":{"name":"ann"},"transform":[{"filter":"datum.s==='II'"}],"mark":{"type":"text","baseline":"middle","fontSize":13,"fontWeight":"bold","color":"#111"},
  "encoding":{"x":{"field":"tx","type":"quantitative"},"y":{"field":"ty","type":"quantitative"},"text":{"field":"t"}}}
]},
{"layer":[
 {"data":{"name":"xrd"},"transform":[{"filter":"datum.s==='I-2nd'"}],"mark":{"type":"line","color":"#f03535","strokeWidth":1.1},
  "encoding":{"x":{"field":"x","type":"quantitative"},"y":{"field":"y","type":"quantitative","scale":{"domain":[-82,321],"nice":false,"zero":false},"axis":null}}},
 {"data":{"name":"lab"},"transform":[{"filter":"datum.s==='I-2nd' && datum.p==='main'"}],"mark":{"type":"text","align":"left","baseline":"middle","fontSize":17,"color":"#111"},
  "encoding":{"x":{"field":"x","type":"quantitative"},"y":{"field":"y","type":"quantitative","axis":null},"text":{"field":"t"}}},
 {"data":{"name":"lab"},"transform":[{"filter":"datum.s==='I-2nd' && datum.p==='sup'"}],"mark":{"type":"text","align":"left","baseline":"middle","fontSize":11,"color":"#111"},
  "encoding":{"x":{"field":"x","type":"quantitative"},"y":{"field":"y","type":"quantitative","axis":null},"text":{"field":"t"}}},
 {"data":{"name":"ann"},"transform":[{"filter":"datum.s==='I-2nd'"}],"mark":{"type":"rule","color":"#111","strokeWidth":1},
  "encoding":{"x":{"field":"x","type":"quantitative"},"x2":{"field":"x2"},"y":{"field":"y","type":"quantitative","axis":null},"y2":{"field":"y2"}}},
 {"data":{"name":"ann"},"transform":[{"filter":"datum.s==='I-2nd'"},{"calculate":"atan2(-(datum.y2-datum.y),(datum.x2-datum.x)*18.125)*180/PI","as":"ang"}],"mark":{"type":"point","shape":"triangle-right","filled":true,"color":"#111","opacity":1,"size":22},
  "encoding":{"x":{"field":"x2","type":"quantitative"},"y":{"field":"y2","type":"quantitative","axis":null},"angle":{"field":"ang","type":"quantitative","scale":null}}},
 {"data":{"name":"ann"},"transform":[{"filter":"datum.s==='I-2nd'"}],"mark":{"type":"text","baseline":"middle","fontSize":13,"fontWeight":"bold","color":"#111"},
  "encoding":{"x":{"field":"tx","type":"quantitative"},"y":{"field":"ty","type":"quantitative","axis":null},"text":{"field":"t"}}}
]},
{"layer":[
 {"data":{"name":"xrd"},"transform":[{"filter":"datum.s==='I-1st'"}],"mark":{"type":"line","color":"#222222","strokeWidth":1.1},
  "encoding":{"x":{"field":"x","type":"quantitative"},"y":{"field":"y","type":"quantitative","scale":{"domain":[-24,379],"nice":false,"zero":false},"axis":null}}},
 {"data":{"name":"lab"},"transform":[{"filter":"datum.s==='I-1st' && datum.p==='main'"}],"mark":{"type":"text","align":"left","baseline":"middle","fontSize":17,"color":"#111"},
  "encoding":{"x":{"field":"x","type":"quantitative"},"y":{"field":"y","type":"quantitative","axis":null},"text":{"field":"t"}}},
 {"data":{"name":"lab"},"transform":[{"filter":"datum.s==='I-1st' && datum.p==='sup'"}],"mark":{"type":"text","align":"left","baseline":"middle","fontSize":11,"color":"#111"},
  "encoding":{"x":{"field":"x","type":"quantitative"},"y":{"field":"y","type":"quantitative","axis":null},"text":{"field":"t"}}},
 {"data":{"name":"ann"},"transform":[{"filter":"datum.s==='I-1st'"}],"mark":{"type":"rule","color":"#111","strokeWidth":1},
  "encoding":{"x":{"field":"x","type":"quantitative"},"x2":{"field":"x2"},"y":{"field":"y","type":"quantitative","axis":null},"y2":{"field":"y2"}}},
 {"data":{"name":"ann"},"transform":[{"filter":"datum.s==='I-1st'"},{"calculate":"atan2(-(datum.y2-datum.y),(datum.x2-datum.x)*18.125)*180/PI","as":"ang"}],"mark":{"type":"point","shape":"triangle-right","filled":true,"color":"#111","opacity":1,"size":22},
  "encoding":{"x":{"field":"x2","type":"quantitative"},"y":{"field":"y2","type":"quantitative","axis":null},"angle":{"field":"ang","type":"quantitative","scale":null}}},
 {"data":{"name":"ann"},"transform":[{"filter":"datum.s==='I-1st'"}],"mark":{"type":"text","baseline":"middle","fontSize":13,"fontWeight":"bold","color":"#111"},
  "encoding":{"x":{"field":"tx","type":"quantitative"},"y":{"field":"ty","type":"quantitative","axis":null},"text":{"field":"t"}}}
]}
]
}
